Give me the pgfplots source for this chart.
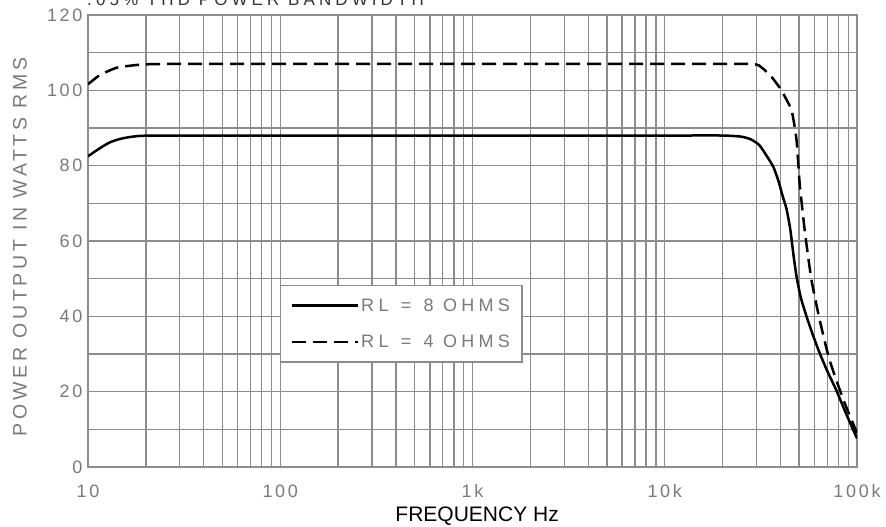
\documentclass[border=0pt]{standalone}
\usepackage{fontspec}
\setmainfont{Liberation Sans}
\newfontfamily\spfont{Liberation Sans}[LetterSpace=15]
\newfontfamily\ylfont{Liberation Sans}[LetterSpace=19]
\newfontfamily\legfont{Liberation Sans}[LetterSpace=24]
\newfontfamily\titfont{Liberation Sans}[LetterSpace=24]
\usepackage{pgfplots}
\pgfplotsset{compat=1.18}
\definecolor{gridgray}{HTML}{8C8C8C}
\definecolor{txtgray}{HTML}{7A7A7A}
\begin{document}
\begin{tikzpicture}
\begin{axis}[
  scale only axis,
  width=769pt, height=452pt,
  xmode=log,
  xmin=10, xmax=100000,
  ymin=0, ymax=120,
  xtick={10,100,1000,10000,100000},
  xticklabels={10,100,1k,10k,100k},
  ytick={0,20,40,60,80,100,120},
  minor ytick={10,30,50,70,90,110},
  grid=both,
  major grid style={draw=gridgray, line width=1.4pt},
  minor grid style={draw=gridgray, line width=1.4pt},
  axis line style={draw=gridgray, line width=2pt},
  major tick length=0pt, minor tick length=0pt,
  /pgf/number format/assume math mode=true,
  tick label style={font=\fontsize{18}{21}\selectfont\spfont, text=txtgray},
  xticklabel style={yshift=-14pt},
  yticklabel style={xshift=-2pt},
  log ticks with fixed point,
  xlabel={FREQUENCY Hz},
  xlabel style={font=\fontsize{21}{24}\selectfont, text=black, at={(axis description cs:0.506,-0.108)}, anchor=center},
  ylabel={POWER OUTPUT IN WATTS RMS},
  ylabel style={font=\fontsize{19.5}{22}\selectfont\ylfont, text=txtgray, at={(axis description cs:-0.0884,0.487)}, anchor=center},
  legend style={at={(axis description cs:0.2497,0.4027)}, anchor=north west,
    draw=gridgray, line width=1.4pt, fill=white,
    font=\fontsize{18}{21}\selectfont\legfont, text=txtgray,
    inner xsep=10pt, inner ysep=11pt,
    row sep=18pt},
  legend cell align=left,
  legend image code/.code={\draw[#1, line width=2pt] (0pt,0pt) -- (56pt,0pt); \path (0pt,0pt) -- (66pt,0pt);},
  every axis plot/.append style={line join=round},
]
\addplot[black, line width=2.5pt, smooth, tension=0.35] coordinates {
(10,82.5) (11.5,84.6) (13,86.2) (14.7,87.1) (16.5,87.6) (18.6,87.9) (22,88) (30,88)
(100,88) (1000,88) (10000,88) (20000,88) (25000,87.7) (28000,87) (31000,85.5)
(34000,82.5) (36700,79.7) (39000,76) (41000,72) (43000,68.5) (45000,63)
(46800,56) (48500,50.5) (51000,45) (54700,39.9) (59000,35) (64000,30.2)
(70000,25.5) (78000,20.4) (88000,14) (100000,7.6)
};
\addlegendentry{RL\, = \,8 OHMS}
\addplot[black, line width=2.5pt, dash pattern=on 14pt off 7pt, smooth, tension=0.35] coordinates {
(10,101.6) (11.5,104) (14.1,106) (18.6,106.8) (25,107) (100,107) (1000,107)
(10000,107) (28000,107) (32000,106) (36000,103.5) (40000,100.4) (43000,97.5)
(45700,94.7) (47500,90) (48500,86.7) (49500,80.5) (50500,74.4) (53700,62)
(58000,49.6) (64000,39) (72000,28.4) (85000,17.8) (100000,9)
};
\addlegendentry{RL\, = \,4 OHMS}
\end{axis}
\node[anchor=base west, font=\fontsize{17}{20}\selectfont\titfont, text=black!80, inner sep=0pt] at ([xshift=-1pt,yshift=9pt]current axis.north west) {.05\% THD POWER BANDWIDTH};
\pgfresetboundingbox
\useasboundingbox ([xshift=-88pt,yshift=-60pt]current axis.south west) rectangle ([xshift=798pt,yshift=467pt]current axis.south west);
\end{tikzpicture}
\end{document}
